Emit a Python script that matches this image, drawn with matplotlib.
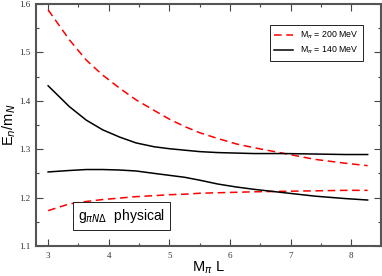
import matplotlib
matplotlib.use("Agg")
import matplotlib.pyplot as plt
from matplotlib.ticker import MultipleLocator

# Data
L_vals = [3.0, 3.35, 3.63, 3.9, 4.18, 4.45, 4.75, 5.0, 5.25, 5.5, 5.8, 6.1, 6.4, 6.9, 7.4, 7.9, 8.27]
red_upper = [1.588, 1.526, 1.484, 1.453, 1.426, 1.402, 1.380, 1.362, 1.347, 1.334, 1.322, 1.311, 1.303,
             1.291, 1.279, 1.271, 1.266]
black_upper = [1.431, 1.388, 1.360, 1.340, 1.325, 1.313, 1.305, 1.301, 1.298, 1.295, 1.293, 1.292, 1.291,
               1.291, 1.290, 1.289, 1.289]
black_lower = [1.253, 1.256, 1.258, 1.258, 1.257, 1.255, 1.250, 1.246, 1.242, 1.236, 1.228, 1.222, 1.217,
               1.210, 1.203, 1.198, 1.195]
red_lower = [1.173, 1.187, 1.192, 1.196, 1.199, 1.202, 1.204, 1.206, 1.207, 1.209, 1.210, 1.211, 1.212,
             1.213, 1.214, 1.215, 1.215]

legend_labels = ["M$_\\pi$ = 200 MeV", "M$_\\pi$ = 140 MeV"]
annot = "g$_{\\pi N\\Delta}$  physical"

fig = plt.figure(figsize=(3.82, 2.76), dpi=100)
ax = fig.add_axes([36/382, 1-246/276, (381-36)/382, (246-4)/276])

red_kw = dict(color="red", lw=1.1, ls=(0, (5, 3)))
blk_kw = dict(color="black", lw=1.1)
l1, = ax.plot(L_vals, red_upper, **red_kw)
ax.plot(L_vals, red_lower, **red_kw)
l2, = ax.plot(L_vals, black_upper, **blk_kw)
ax.plot(L_vals, black_lower, **blk_kw)

ax.set_xlim(2.8, 8.49)
ax.set_ylim(1.1, 1.6)
ax.xaxis.set_major_locator(MultipleLocator(1))
ax.xaxis.set_minor_locator(MultipleLocator(0.5))
ax.yaxis.set_major_locator(MultipleLocator(0.1))
ax.yaxis.set_minor_locator(MultipleLocator(0.05))
ax.tick_params(which="both", direction="in", top=True, right=True, color="#444")
ax.tick_params(which="major", length=5, width=0.8, labelsize=6.5, pad=4)
ax.tick_params(which="minor", length=2.5, width=0.8)
for lab in ax.get_xticklabels() + ax.get_yticklabels():
    lab.set_fontfamily("Liberation Serif")
    lab.set_color("#333")
for s in ax.spines.values():
    s.set_linewidth(1.5)
    s.set_color("#555")

ax.set_xlabel("M$_\\pi$ L", fontsize=10.5, family="Liberation Sans", labelpad=0)
ax.set_ylabel("E$_n$/m$_N$", fontsize=10.5, family="Liberation Sans", labelpad=1)

leg = ax.legend([l1, l2], legend_labels, loc="upper right", bbox_to_anchor=(0.96, 0.93),
                fancybox=False, edgecolor="black", framealpha=1,
                handlelength=2.2, borderpad=0.5, labelspacing=0.4,
                prop={"family": "Liberation Sans", "size": 6.3})
leg.get_frame().set_linewidth(0.6)

ax.text(3.49, 1.162, annot, fontsize=10, family="Liberation Sans", va="center", ha="left",
        bbox=dict(boxstyle="square,pad=0.35", fc="white", ec="black", lw=0.6))

fig.savefig("out.png", dpi=100)
